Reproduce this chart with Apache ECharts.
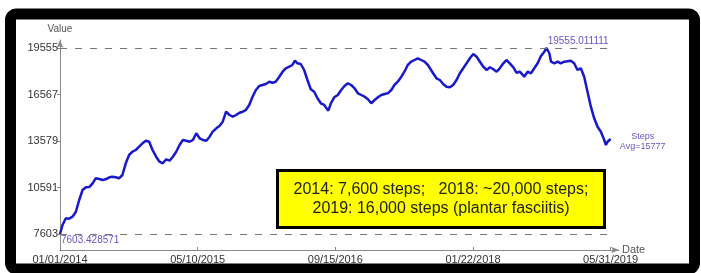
<!DOCTYPE html>
<html>
<head>
<meta charset="utf-8">
<script src="https://cdn.jsdelivr.net/npm/echarts@6/dist/echarts.min.js"></script>
<style>
  html, body { margin: 0; padding: 0; background: #fff; }
  #chart { width: 701px; height: 273px; }
</style>
</head>
<body>
<div id="chart"></div>
<script>
// days counted from 01/01/2014
const days = [
  0, 9, 21, 33, 45, 57, 69, 81, 93, 105, 117, 128, 141, 153, 164, 177, 188, 200, 212, 224,
  236, 248, 260, 272, 284, 296, 308, 320, 332, 345, 357, 369, 381, 393, 405, 417, 429, 441, 453, 465,
  477, 489, 501, 513, 525, 537, 548, 561, 572, 584, 596, 608, 620, 632, 644, 656, 667, 679, 691, 703,
  715, 727, 739, 751, 763, 774, 787, 799, 810, 823, 834, 843, 852, 864, 876, 888, 900, 912, 924, 936,
  948, 963, 972, 984, 997, 1009, 1021, 1033, 1045, 1057, 1069, 1081, 1093, 1105, 1117, 1129, 1141, 1153, 1165, 1176,
  1189, 1200, 1212, 1225, 1236, 1248, 1260, 1272, 1284, 1296, 1308, 1320, 1327, 1339, 1351, 1363, 1375, 1387, 1399, 1411,
  1423, 1435, 1447, 1459, 1471, 1483, 1495, 1507, 1519, 1531, 1543, 1555, 1567, 1578, 1591, 1602, 1614, 1627, 1638, 1650,
  1666, 1678, 1690, 1702, 1714, 1726, 1738, 1746, 1756, 1762, 1774, 1786, 1797, 1810, 1821, 1833, 1845, 1857, 1869, 1881,
  1893, 1905, 1917, 1929, 1941, 1953, 1959, 1965, 1971, 1976
]
const steps = [
  7603.428571, 8181, 8612, 8590, 8715, 9036, 9788, 10430, 10604, 10620, 10861, 11182, 11137, 11073, 11118, 11246, 11285, 11246, 11182, 11394,
  12146, 12680, 12892, 13001, 13213, 13431, 13598, 13534, 13001, 12570, 12249, 12146, 12403, 12313, 12570, 12892, 13322, 13643, 13598, 13534,
  13643, 14074, 13753, 13643, 13598, 13855, 14177, 14395, 14543, 14819, 15462, 15250, 15141, 15250, 15398, 15462, 15571, 15893, 16426, 16856,
  17113, 17178, 17242, 17390, 17326, 17390, 17711, 18032, 18251, 18354, 18463, 18739, 18572, 18527, 18142, 17499, 16901, 16747, 16323, 16002,
  15893, 15526, 16002, 16387, 16535, 16856, 17113, 17287, 17178, 16966, 16644, 16535, 16426, 16259, 16002, 16214, 16387, 16535, 16599, 16644,
  16856, 17178, 17390, 17711, 18032, 18463, 18675, 18784, 18893, 18784, 18675, 18463, 18354, 17930, 17608, 17499, 17242, 17069, 17030, 17178,
  17499, 17930, 18251, 18572, 18893, 19170, 18996, 18675, 18354, 18142, 18315, 18187, 18032, 18251, 18572, 18784, 18572, 18315, 17968, 18032,
  17711, 18032, 17930, 18251, 18572, 19041, 19318, 19555.011111, 19215, 18675, 18572, 18675, 18572, 18675, 18700, 18739, 18572, 18142, 18251, 17711,
  16747, 15783, 15038, 14498, 14177, 13643, 13322, 13534, 13643, 13708
]
const tickDays = [0, 494, 988, 1482, 1976]
const tickLabels = ['01/01/2014', '05/10/2015', '09/15/2016', '01/22/2018', '05/31/2019']
const yTicks = [7603, 10591, 13579, 16567, 19555]
const seriesName = 'Steps'
const avgText = 'Avg=15777'
const noteLines = ['2014: 7,600 steps;   2018: ~20,000 steps;', '2019: 16,000 steps (plantar fasciitis)']

const maxV = Math.max(...steps)
const minV = Math.min(...steps)
const lastDay = days[days.length - 1]
const font = '"Liberation Sans", Arial, sans-serif'
const markColor = '#6458c8'

const chart = echarts.init(document.getElementById('chart'))
chart.setOption({
  animation: false,
  textStyle: { fontFamily: font },
  grid: { left: 60, right: 82, top: 40, bottom: 23 },
  xAxis: {
    type: 'value',
    min: 0,
    max: 2006,
    name: 'Date',
    nameLocation: 'end',
    nameGap: 3,
    nameMoveOverlap: false,
    nameTextStyle: { fontSize: 11, color: '#555', padding: [0, 0, 3, 0] },
    splitLine: { show: false },
    axisLine: { lineStyle: { color: '#888', width: 1 }, symbol: ['none', 'arrow'], symbolSize: [5, 8] },
    axisTick: { inside: true, length: 3, lineStyle: { color: '#888' }, customValues: tickDays },
    axisLabel: {
      customValues: tickDays,
      margin: 4,
      fontSize: 11,
      color: '#333',
      formatter: v => tickLabels[tickDays.indexOf(v)]
    }
  },
  yAxis: {
    type: 'value',
    min: 6575,
    max: 20069,
    name: 'Value',
    nameLocation: 'end',
    nameGap: 6,
    nameMoveOverlap: false,
    nameTextStyle: { fontSize: 10, color: '#555', align: 'center' },
    splitLine: { show: false },
    axisLine: { show: true, lineStyle: { color: '#888', width: 1 }, symbol: ['none', 'arrow'], symbolSize: [5, 8] },
    axisTick: { show: true, length: 3, lineStyle: { color: '#888' }, customValues: yTicks },
    axisLabel: { customValues: yTicks, margin: 2, fontSize: 11, color: '#333', formatter: v => String(v) }
  },
  series: [{
    name: seriesName,
    type: 'line',
    data: days.map((d, i) => [d, steps[i]]),
    showSymbol: false,
    lineStyle: { color: '#1818cc', width: 2.5 },
    itemStyle: { color: '#1818cc' },
    endLabel: {
      show: true,
      formatter: seriesName + '\n' + avgText,
      align: 'center',
      distance: 32,
      offset: [0, 3],
      fontSize: 9,
      lineHeight: 10,
      color: markColor
    },
    markLine: {
      silent: true,
      symbol: 'none',
      lineStyle: { color: '#777', type: [7, 8], width: 1 },
      data: [
        [
          { coord: [days[0], maxV], label: { show: true, position: 'insideEndTop', distance: 2, formatter: String(maxV), fontSize: 10, color: markColor } },
          { coord: [lastDay, maxV] }
        ],
        [
          { coord: [days[0], minV], label: { show: true, position: 'insideStartBottom', distance: 1, formatter: String(minV), fontSize: 10, color: markColor } },
          { coord: [lastDay, minV] }
        ]
      ]
    }
  }],
  graphic: [
    {
      type: 'rect',
      z: -1,
      shape: { x: 10.5, y: 14, width: 684, height: 255, r: 6 },
      style: { fill: 'none', stroke: '#000', lineWidth: 11 }
    },
    {
      type: 'rect',
      shape: { x: 277.5, y: 170.5, width: 327, height: 57 },
      style: { fill: '#ffff00', stroke: '#000', lineWidth: 3 }
    },
    {
      type: 'text',
      style: {
        text: noteLines.join('\n'),
        x: 441,
        y: 199,
        align: 'center',
        verticalAlign: 'middle',
        fontSize: 16,
        lineHeight: 19,
        fontFamily: font,
        fill: '#222'
      }
    }
  ]
})
</script>
</body>
</html>
